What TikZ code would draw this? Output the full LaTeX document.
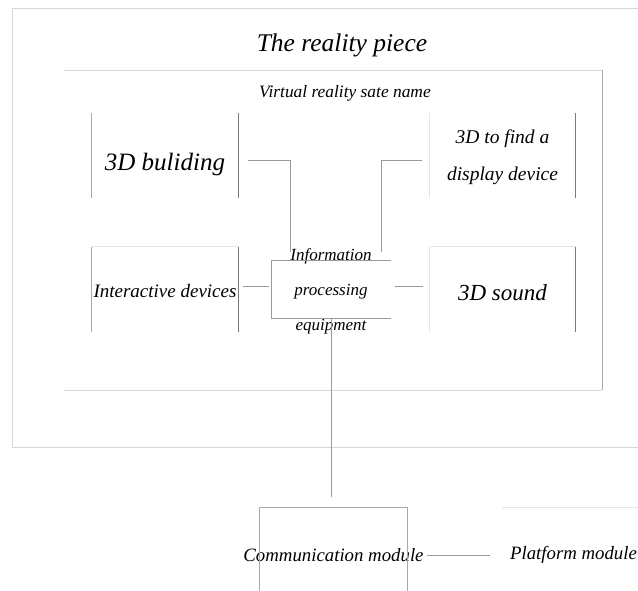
\documentclass[tikz,border=0pt]{standalone}
\usepackage{fontspec}
\setmainfont{Liberation Serif}
\definecolor{framegray}{HTML}{D6D6D6}
\definecolor{sidegray}{HTML}{A8A8A8}
\definecolor{darkgray}{HTML}{7A7A7A}
\definecolor{faintgray}{HTML}{E6E6E6}
\definecolor{linkgray}{HTML}{9A9A9A}
\begin{document}
\begin{tikzpicture}[x=1pt,y=-1pt,
	unit/.style={minimum width=146pt, minimum height=85pt, inner sep=0pt},
	side/.style={draw=sidegray, line width=0.8pt},
	dark/.style={draw=darkgray, line width=0.8pt},
	faint/.style={draw=faintgray, line width=0.8pt},
	link/.style={draw=linkgray, line width=0.7pt},
	frame/.style={draw=framegray, line width=0.8pt}]
	\useasboundingbox (0,0) rectangle (638,591);
	%Rahmen
	\draw[frame] (650,8) -- (12,8) -- (12,447) -- (650,447);
	\draw[frame] (64,70) -- (602,70);
	\draw[frame] (64,390) -- (602,390);
	\draw[side] (602,70) -- (602,390);
	\node[font=\itshape\fontsize{25.5}{30}\selectfont] (title) at (342,45) {The reality piece};
	\node[font=\itshape\fontsize{17.4}{21}\selectfont] (vrname) at (345,93) {Virtual reality sate name};
	
	%Bausteine
	\node[unit] (build) at (165,155.5) {};
	\node[font=\itshape\fontsize{25}{30}\selectfont] (buildtext) at ([yshift=-9pt]build) {3D buliding};
	\node[unit] (display) at (502.5,155.5) {};
	\node[font=\itshape\fontsize{19.5}{37}\selectfont, align=center] (displaytext) at ([yshift=-2pt]display) {3D to find a\\display device};
	\node[unit] (inter) at (165,289.5) {};
	\node[font=\itshape\fontsize{19}{23}\selectfont] (intertext) at ([yshift=-2pt]inter) {Interactive devices};
	\node[unit] (sound) at (502.5,289.5) {};
	\node[font=\itshape\fontsize{23}{28}\selectfont] (soundtext) at ([yshift=-3pt]sound) {3D sound};
	\node[minimum width=119pt, minimum height=57pt, inner sep=0pt] (info) at (331,289.5) {};
	\node[font=\itshape\fontsize{17}{35}\selectfont, align=center] (infotext) at ([yshift=-2pt]info) {Information\\processing\\equipment};
	\node[minimum width=147pt, minimum height=94pt, inner sep=0pt] (comm) at (333.5,555) {};
	\node[font=\itshape\fontsize{18.8}{23}\selectfont] (commtext) at (comm) {Communication module};
	\node[minimum width=147pt, minimum height=94pt, inner sep=0pt] (platform) at (575.5,555) {};
	\node[font=\itshape\fontsize{18.8}{23}\selectfont] (platformtext) at ([xshift=-2pt]platform) {Platform module};
	
	%Seiten
	\draw[side] (build.north west) -- (build.south west);
	\draw[dark] (build.north east) -- (build.south east);
	\draw[faint] (display.north west) -- (display.south west);
	\draw[dark] (display.north east) -- (display.south east);
	\draw[faint] (inter.north west) -- (inter.north east);
	\draw[side] (inter.north west) -- (inter.south west);
	\draw[dark] (inter.north east) -- (inter.south east);
	\draw[faint] (sound.south west) -- (sound.north west) -- (sound.north east);
	\draw[dark] (sound.north east) -- (sound.south east);
	\draw[link] (info.north east) -- (info.north west) -- (info.south west) -- (info.south east);
	\draw[side] (comm.south west) -- (comm.north west) -- (comm.north east) -- (comm.south east);
	\draw[faint] (platform.north west) -- ([xshift=20pt]platform.north east);
	
	%Verbindungen
	\draw[link] ([shift={(10,4.5)}]build.east) -| ([shift={(-41,-9)}]info.north);
	\draw[link] ([shift={(-7,4.5)}]display.west) -| ([shift={(50,-9)}]info.north);
	\draw[link] ([shift={(5,-3.5)}]inter.east) -- ([shift={(-2,-3.5)}]info.west);
	\draw[link] ([shift={(4,-3)}]info.east) -- ([shift={(-6,-3)}]sound.west);
	\draw[link, shorten >=11pt] (info.south) -- (info.south |- comm.north);
	\draw[link] ([xshift=20pt]comm.east) -- ([xshift=-12pt]platform.west);
\end{tikzpicture}
\end{document}
